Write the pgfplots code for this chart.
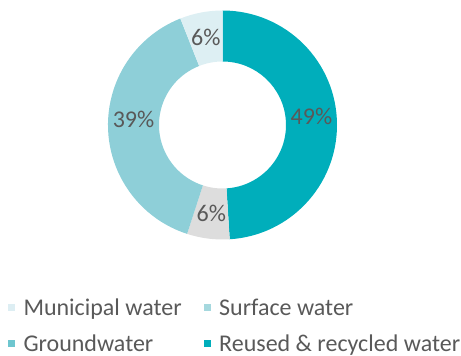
\documentclass[border=0pt]{standalone}
\usepackage{fontspec}
\setmainfont{Carlito}
\usepackage{pgfplots}
\pgfplotsset{compat=1.18}
\usepackage{pgfplotstable}
\definecolor{cMuni}{HTML}{DDEFF3}
\definecolor{cSurf}{HTML}{8ECFD8}
\definecolor{cGrey}{HTML}{DDDDDD}
\definecolor{cReuse}{HTML}{00AEBB}
\definecolor{lMuni}{HTML}{DDEEF3}
\definecolor{lSurf}{HTML}{A5D8DE}
\definecolor{lGround}{HTML}{6EC6CF}
\definecolor{lReuse}{HTML}{00AEBB}
\definecolor{txt}{HTML}{595959}

% slices, clockwise from 12 o'clock
\pgfplotstableread{
name value color dy
Reused 49 cReuse 6
Ground 6 cGrey 0
Surface 39 cSurf 8
Municipal 6 cMuni 0
}\donut

\xdef\curang{90}
\pgfplotsforeachungrouped \i in {0,...,3}{%
  \pgfplotstablegetelem{\i}{value}\of\donut \let\v\pgfplotsretval
  \pgfplotstablegetelem{\i}{color}\of\donut \expandafter\xdef\csname col\i\endcsname{\pgfplotsretval}%
  \pgfplotstablegetelem{\i}{dy}\of\donut \expandafter\xdef\csname dy\i\endcsname{\pgfplotsretval bp}%
  \pgfmathsetmacro\ea{\curang-3.6*\v}%
  \pgfmathsetmacro\ma{\curang-1.8*\v}%
  \expandafter\xdef\csname sa\i\endcsname{\curang}%
  \expandafter\xdef\csname ea\i\endcsname{\ea}%
  \expandafter\xdef\csname ma\i\endcsname{\ma}%
  \expandafter\xdef\csname val\i\endcsname{\v}%
  \xdef\curang{\ea}%
}

\begin{document}
\begin{tikzpicture}
\begin{axis}[
  at={(0,0)}, anchor=origin,
  scale only axis, width=461bp, height=356bp,
  xmin=0, xmax=461, ymin=0, ymax=356,
  hide axis, clip=false,
  legend columns=2,
  legend image code/.code={\fill (0bp,4bp) rectangle (7bp,11bp);},
  legend style={draw=none, fill=none, inner sep=0pt, outer sep=0pt,
    at={(axis cs:8,57)}, anchor=north west,
    column sep=8.5bp, row sep=15bp,
    nodes={inner sep=0pt, text height=16bp, text depth=5bp, anchor=base west,
      font=\fontsize{24bp}{28bp}\selectfont, text=txt},
    /tikz/every even column/.append style={column sep=22bp}},
  legend cell align=left,
]
\pgfplotsinvokeforeach{0,...,3}{
  \fill[color=\csname col#1\endcsname]
    ([shift={(\csname sa#1\endcsname:114.5bp)}]axis cs:222.5,231)
    arc[start angle=\csname sa#1\endcsname, end angle=\csname ea#1\endcsname, radius=114.5bp]
    -- ([shift={(\csname ea#1\endcsname:63.5bp)}]axis cs:222.5,231)
    arc[start angle=\csname ea#1\endcsname, end angle=\csname sa#1\endcsname, radius=63.5bp]
    -- cycle;
}
\pgfplotsinvokeforeach{0,...,3}{
  \node[text=txt, font=\fontsize{24bp}{28bp}\selectfont, inner sep=0pt]
    at ([shift={(\csname ma#1\endcsname:89bp)}, yshift=\csname dy#1\endcsname]axis cs:222.5,231)
    {\csname val#1\endcsname\%};
}
\addlegendimage{fill=lMuni, draw=none}
\addlegendentry{Municipal water}
\addlegendimage{fill=lSurf, draw=none}
\addlegendentry{Surface water}
\addlegendimage{fill=lGround, draw=none}
\addlegendentry{Groundwater}
\addlegendimage{fill=lReuse, draw=none}
\addlegendentry{Reused \& recycled water}
\end{axis}
\pgfresetboundingbox
\path (0,0) rectangle (461bp,356bp);
\end{tikzpicture}
\end{document}
